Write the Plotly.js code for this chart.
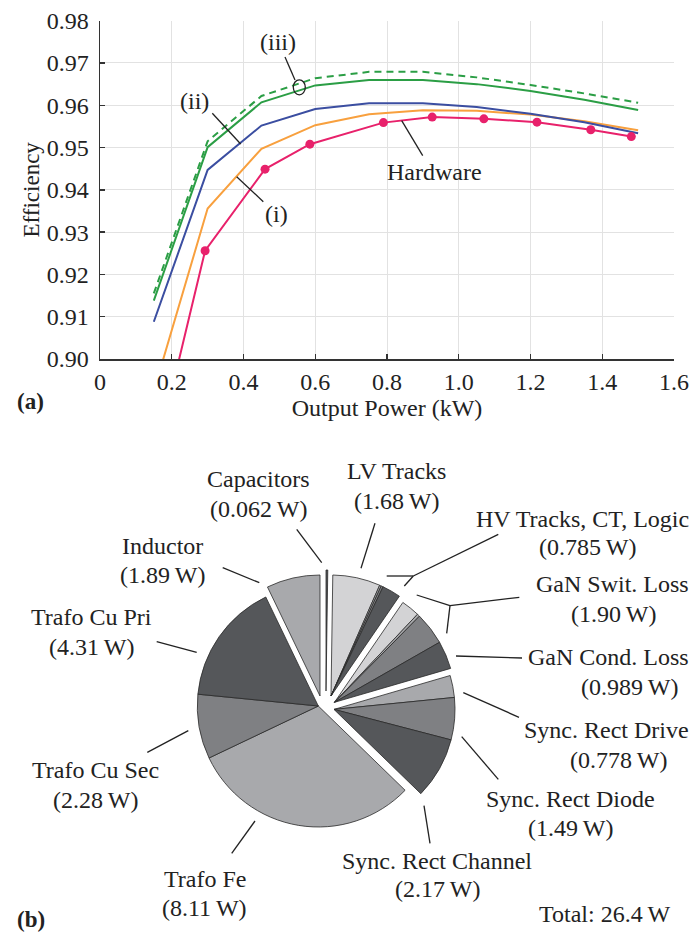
<!DOCTYPE html>
<html><head><meta charset="utf-8">
<script src="https://cdn.plot.ly/plotly-3.0.1.min.js"></script>
<style>html,body{margin:0;padding:0;background:#fff}</style>
</head><body><div id="chart" style="width:692px;height:936px"></div>
<script>
// ---------- (a) efficiency data ----------
const power = [0.15, 0.3, 0.45, 0.6, 0.75, 0.9, 1.05, 1.2, 1.35, 1.5];
const effModelIIIdash = [0.9155, 0.9515, 0.9622, 0.9664, 0.9679, 0.9679, 0.9666, 0.9648, 0.9628, 0.9606];
const effModelIII = [0.9138, 0.9501, 0.9607, 0.9647, 0.9660, 0.9660, 0.9650, 0.9634, 0.9613, 0.9589];
const effModelII = [0.9088, 0.9447, 0.9552, 0.9591, 0.9605, 0.9605, 0.9596, 0.9580, 0.9560, 0.9534];
const effModelI = [0.8924, 0.9356, 0.9497, 0.9553, 0.9579, 0.9588, 0.9587, 0.9578, 0.9562, 0.9541];
const hwPower = [0.15, 0.293, 0.46, 0.585, 0.79, 0.926, 1.07, 1.218, 1.368, 1.481];
const hwEff = [0.875, 0.9256, 0.9449, 0.9508, 0.9559, 0.9572, 0.9568, 0.9560, 0.9542, 0.9526];
const xTickVals = [0, 0.2, 0.4, 0.6, 0.8, 1.0, 1.2, 1.4, 1.6];
const xTickText = ['0', '0.2', '0.4', '0.6', '0.8', '1.0', '1.2', '1.4', '1.6'];
const yTickVals = [0.90, 0.91, 0.92, 0.93, 0.94, 0.95, 0.96, 0.97, 0.98];
const yTickText = ['0.90', '0.91', '0.92', '0.93', '0.94', '0.95', '0.96', '0.97', '0.98'];

// ---------- (b) loss breakdown data ----------
const lossLabels = ['Capacitors', 'LV Tracks', 'HV Tracks', 'CT', 'Logic',
  'GaN Swit. Loss 1', 'GaN Swit. Loss 2', 'GaN Swit. Loss 3', 'GaN Cond. Loss',
  'Sync. Rect Drive', 'Sync. Rect Diode', 'Sync. Rect Channel',
  'Trafo Fe', 'Trafo Cu Sec', 'Trafo Cu Pri', 'Inductor'];
const lossValues = [0.062, 1.68, 0.06, 0.07, 0.655, 0.654, 0.095, 1.151, 0.989,
  0.778, 1.49, 2.17, 8.11, 2.28, 4.31, 1.89];
const lossGroup = [0, 1, 1, 1, 1, 2, 2, 2, 2, 3, 3, 3, 4, 4, 4, 5];
const lossTextLine1 = ['Capacitors', 'LV Tracks', 'HV Tracks, CT, Logic', 'GaN Swit. Loss', 'GaN Cond. Loss',
  'Sync. Rect Drive', 'Sync. Rect Diode', 'Sync. Rect Channel', 'Trafo Fe', 'Trafo Cu Sec', 'Trafo Cu Pri', 'Inductor'];
const lossTextLine2 = ['(0.062\u2009W)', '(1.68\u2009W)', '(0.785\u2009W)', '(1.90\u2009W)', '(0.989\u2009W)',
  '(0.778\u2009W)', '(1.49\u2009W)', '(2.17\u2009W)', '(8.11\u2009W)', '(2.28\u2009W)', '(4.31\u2009W)', '(1.89\u2009W)'];
const totalText = 'Total: 26.4\u2009W';

// ---------- styling / geometry ----------
const W = 692, H = 936;
const FONT = 'Liberation Serif, Times New Roman, serif';
const px = x => x / W;
const py = y => 1 - y / H;
const shades = ['#55575a', '#d3d3d5', '#a8a9ac', '#7f8083', '#55575a', '#d3d3d5', '#a8a9ac', '#7f8083', '#55575a',
  '#a8a9ac', '#7f8083', '#55575a', '#a8a9ac', '#7f8083', '#55575a', '#a8a9ac'];
const pieCenter = [318.3, 706];
const pieR = 121;
const groupShift = [[7.7, -15], [12.7, -10], [16.2, -3.7], [15.7, 3.4], [0, 0], [1.7, -10]];

const traces = [];
const lineStyle = (c, d) => ({color: c, width: 2, dash: d || 'solid'});
traces.push({x: power, y: effModelI, mode: 'lines', line: lineStyle('#f8a03e'), showlegend: false});
traces.push({x: power, y: effModelII, mode: 'lines', line: lineStyle('#3b4ea1'), showlegend: false});
traces.push({x: power, y: effModelIII, mode: 'lines', line: lineStyle('#2b9e45'), showlegend: false});
traces.push({x: power, y: effModelIIIdash, mode: 'lines', line: lineStyle('#2b9e45', '7px,5px'), showlegend: false});
traces.push({x: hwPower, y: hwEff, mode: 'lines+markers', line: lineStyle('#e8216b'),
  marker: {color: '#e8216b', size: 9}, showlegend: false});

// pie groups: each group is its own pie, shifted rigidly
const total = lossValues.reduce((a, b) => a + b, 0);
const nGroups = Math.max(...lossGroup) + 1;
for (let g = 0; g < nGroups; g++) {
  const idx = lossGroup.map((v, i) => v === g ? i : -1).filter(i => i >= 0);
  const before = lossValues.slice(0, idx[0]).reduce((a, b) => a + b, 0);
  const vals = idx.map(i => lossValues[i]);
  const sum = vals.reduce((a, b) => a + b, 0);
  let rot = before / total * 360;
  if (rot > 180) rot -= 360;
  const cx = pieCenter[0] + groupShift[g][0], cy = pieCenter[1] + groupShift[g][1];
  traces.push({
    type: 'pie', sort: false, direction: 'clockwise', rotation: rot,
    values: vals.concat([total - sum]),
    labels: idx.map(i => lossLabels[i]).concat(['rest' + g]),
    marker: {colors: idx.map(i => shades[i]).concat(['rgba(0,0,0,0)']),
      line: {color: '#2a2a2a', width: idx.map(() => 0.8).concat([0])}},
    textinfo: 'none', hoverinfo: 'none', showlegend: false,
    domain: {x: [px(cx - pieR), px(cx + pieR)], y: [py(cy + pieR), py(cy - pieR)]}
  });
}

const ann = [];
const shapes = [];
const txt = (x, y, t, size, extra) => ann.push(Object.assign({xref: 'paper', yref: 'paper', x: px(x), y: py(y), text: t,
  showarrow: false, xanchor: 'center', yanchor: 'middle', font: {family: FONT, size: size || 24, color: '#222'}}, extra || {}));
const seg = (x0, y0, x1, y1) => shapes.push({type: 'line', xref: 'paper', yref: 'paper', x0: px(x0), y0: py(y0), x1: px(x1), y1: py(y1),
  line: {color: '#222', width: 1.3}});

// (a) annotations
txt(278, 42, '(iii)'); seg(285, 57, 295, 80);
shapes.push({type: 'circle', xref: 'paper', yref: 'paper', x0: px(293.3), x1: px(305.3), y0: py(94.8), y1: py(79.8), line: {color: '#222', width: 1.3}});
txt(194, 101, '(ii)'); seg(212.3, 113.3, 240.7, 144);
txt(276, 214, '(i)'); seg(236.7, 176.7, 263.3, 201.7);
txt(434, 172, 'Hardware'); seg(401.7, 120.7, 422.7, 155.7);
txt(30.5, 401.5, '<b>(a)</b>', 23);
txt(31, 919, '<b>(b)</b>', 23);

// (b) labels: [x, y1, y2]; labels near the right edge are kept inside the page
const labPos = [[258, 479, 509], [397, 471, 501], [587.5, 519, 547], [613, 584, 614], [629, 657, 687],
  [618, 730, 760], [570, 799, 828], [437, 861, 889], [205, 879, 908], [96, 770, 800], [92, 617, 647], [162, 546, 575]];
const RIGHT_EDGE = 691;
labPos.forEach((p, i) => {
  const halfGuess = lossTextLine1[i].length * 5.6;
  if (p[0] + halfGuess > RIGHT_EDGE) {
    txt(RIGHT_EDGE, p[1], lossTextLine1[i], 24, {xanchor: 'right'});
  } else {
    txt(p[0], p[1], lossTextLine1[i]);
  }
  txt(p[0], p[2], lossTextLine2[i]);
});
txt(604, 914, totalText);

// leader lines
seg(296.7, 529.3, 321.7, 562.7);   // capacitors
seg(222.7, 567.7, 259.3, 582.7);   // inductor
seg(156.7, 641.7, 196.7, 652.3);   // trafo cu pri
seg(147.3, 752.3, 188.3, 730.7);   // trafo cu sec
seg(231.7, 853.3, 255, 821);       // trafo fe
seg(375, 523.3, 361, 568.3);       // lv tracks
seg(498.3, 534.3, 413.3, 576); seg(413.3, 576, 386.7, 576); seg(413.3, 576, 404.3, 586); // hv
seg(519.3, 597.3, 450, 605.7); seg(450, 605.7, 416.7, 595); seg(450, 605.7, 446.7, 633.3); // gan swit
seg(522, 658, 456, 656);           // gan cond
seg(463.3, 692.7, 519, 717.3);     // sync drive
seg(461.7, 736.7, 498.3, 779.3);   // sync diode
seg(424, 805.7, 430, 843.3);       // sync channel

const axFont = {family: FONT, size: 24, color: '#222'};
const layout = {
  width: W, height: H, margin: {l: 0, r: 0, t: 0, b: 0},
  paper_bgcolor: '#fff', plot_bgcolor: '#fff', showlegend: false,
  xaxis: {domain: [px(100), px(674)], range: [0, 1.6], tickvals: xTickVals, ticktext: xTickText,
    showline: true, linecolor: '#333', linewidth: 1.5, ticks: 'inside', ticklen: 5, tickcolor: '#333', tickwidth: 1.3,
    showgrid: true, gridcolor: '#e2e2e2', gridwidth: 1, zeroline: false, tickfont: axFont, ticklabelstandoff: 1,
    title: {text: 'Output Power (kW)', font: axFont, standoff: 0}, automargin: false, fixedrange: true},
  yaxis: {domain: [py(359), py(20.7)], range: [0.90, 0.98], tickvals: yTickVals, ticktext: yTickText,
    showline: true, linecolor: '#333', linewidth: 1.5, ticks: 'inside', ticklen: 5, tickcolor: '#333', tickwidth: 1.3,
    showgrid: true, gridcolor: '#e2e2e2', gridwidth: 1, zeroline: false, tickfont: axFont, ticklabelstandoff: 5,
    title: {text: 'Efficiency', font: {family: FONT, size: 23, color: '#222'}, standoff: 0}, automargin: false, fixedrange: true},
  annotations: ann, shapes: shapes
};
Plotly.newPlot('chart', traces, layout, {displayModeBar: false, staticPlot: true});
</script>
</body></html>
